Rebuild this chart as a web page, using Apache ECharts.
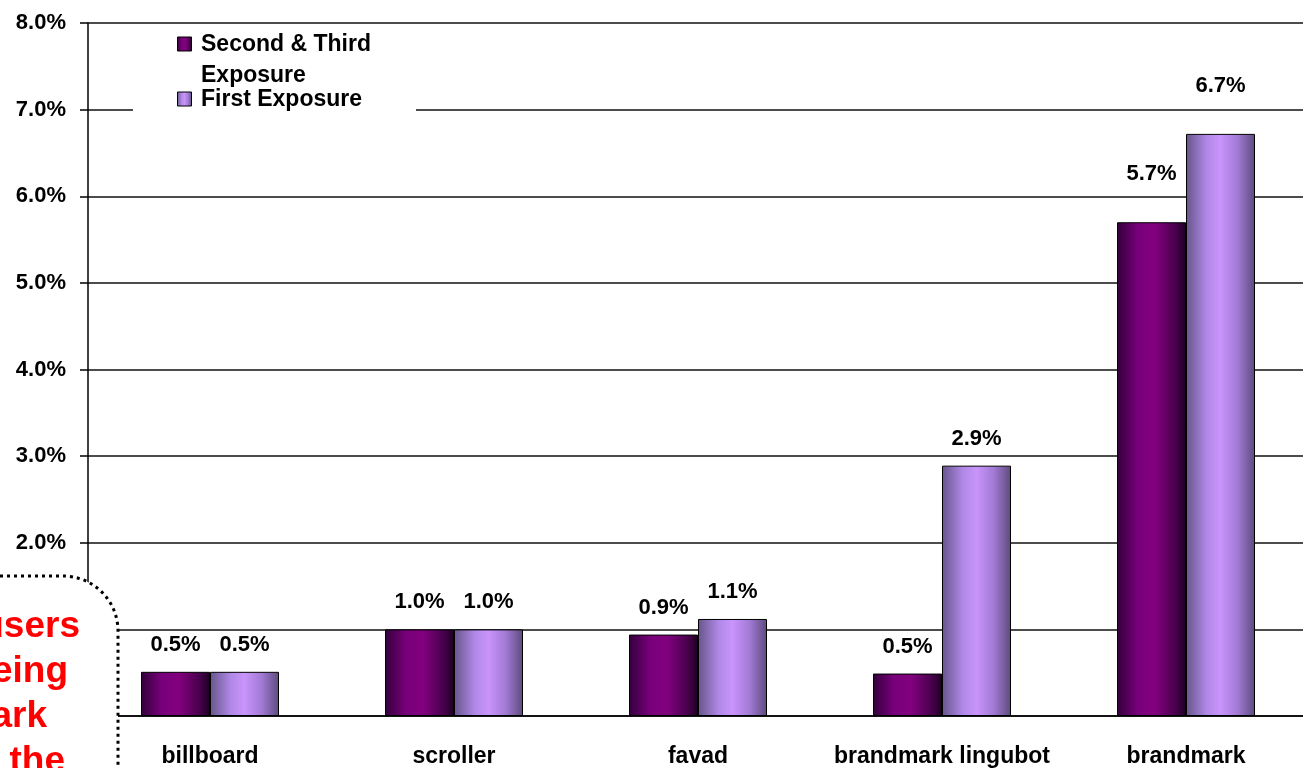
<!DOCTYPE html>
<html lang="en">
<head>
    <meta charset="UTF-8">
    <title>Exposure</title>
    <script src="https://cdn.jsdelivr.net/npm/echarts@6/dist/echarts.min.js"></script>
</head>
<style>
    *{
        margin: 0;
        padding: 0;
    }
    html , body{
        width: 100%;
        height: 768px;
        background: #fff;
    }
    .container{
        width: 1303px;
        height: 768px;
    }
</style>
<body>
<div class="container"></div>
<script>
    // data (percent)
    const categories = ['billboard', 'scroller', 'favad', 'brandmark lingubot', 'brandmark'];
    const seriesNames = ['Second & Third Exposure', 'First Exposure'];
    const secondThird = [0.51, 1.0, 0.94, 0.49, 5.7];
    const firstExposure = [0.51, 1.0, 1.12, 2.89, 6.72];
    const calloutLines = ['users', 'seeing', 'brandmark', 'at the'];

    const font = '"Liberation Sans", Arial, sans-serif';

    let container = document.querySelector('.container');
    let mycharts = echarts.init(container);

    const darkFill = new echarts.graphic.LinearGradient(0, 0, 1, 0, [
        {offset: 0, color: '#32003a'},
        {offset: 0.3, color: '#78007a'},
        {offset: 0.55, color: '#82007f'},
        {offset: 0.85, color: '#48004c'},
        {offset: 1, color: '#1e0022'}
    ]);
    const lightFill = new echarts.graphic.LinearGradient(0, 0, 1, 0, [
        {offset: 0, color: '#66558a'},
        {offset: 0.3, color: '#b088e6'},
        {offset: 0.5, color: '#c994fb'},
        {offset: 0.75, color: '#a27ad4'},
        {offset: 1, color: '#5c4a7c'}
    ]);

    function buildData(values) {
        // brandmark labels sit higher in the original
        return values.map((v, i) => i === 4 ? {value: v, label: {distance: 37}} : v);
    }

    let labelStyle = {
        show: true,
        position: 'top',
        distance: 16,
        color: '#000',
        fontFamily: font,
        fontWeight: 'bold',
        fontSize: 22,
        formatter: p => p.value.toFixed(1) + '%'
    };

    let series = [
        {
            name: seriesNames[0],
            type: 'bar',
            data: buildData(secondThird),
            barWidth: 69,
            barGap: '0%',
            itemStyle: {color: darkFill, borderColor: '#000', borderWidth: 1},
            label: labelStyle
        },
        {
            name: seriesNames[1],
            type: 'bar',
            data: buildData(firstExposure),
            barWidth: 69,
            barGap: '0%',
            itemStyle: {color: lightFill, borderColor: '#000', borderWidth: 1},
            label: labelStyle
        }
    ];

    let calloutText = calloutLines.map((t, i) => ({
        type: 'text',
        z: 101,
        x: [80, 68, 47, 65][i],
        y: 627 + i * 45,
        style: {
            text: t,
            fill: '#ff0000',
            font: 'bold 37px ' + font,
            textAlign: 'right',
            textVerticalAlign: 'middle'
        }
    }));

    let options = {
        animation: false,
        backgroundColor: '#fff',
        // plot runs a little past the right edge of the page
        grid: {left: 88, width: 1220, top: 23, bottom: 52, outerBoundsMode: 'none'},
        xAxis: {
            type: 'category',
            data: categories,
            axisLine: {lineStyle: {color: '#000', width: 1.5}},
            axisTick: {length: 9, lineStyle: {color: '#000', width: 1.5}},
            axisLabel: {
                margin: 29,
                color: '#000',
                fontFamily: font,
                fontWeight: 'bold',
                fontSize: 23,
                interval: 0
            }
        },
        yAxis: {
            type: 'value',
            min: 0,
            max: 8,
            interval: 1,
            axisLine: {show: true, lineStyle: {color: '#000', width: 1.5}},
            axisTick: {show: true, length: 8, lineStyle: {color: '#000', width: 1.5}},
            splitLine: {lineStyle: {color: '#111', width: 1.5}},
            axisLabel: {
                margin: 22,
                color: '#000',
                fontFamily: font,
                fontWeight: 'bold',
                fontSize: 22,
                formatter: v => v.toFixed(1) + '%'
            }
        },
        graphic: [
            // legend box
            {type: 'rect', z: 100, shape: {x: 133, y: 28, width: 283, height: 92}, style: {fill: '#fff'}},
            {type: 'rect', z: 101, shape: {x: 177.5, y: 37, width: 14, height: 14}, style: {fill: darkFill, stroke: '#000', lineWidth: 1}},
            {type: 'rect', z: 101, shape: {x: 177.5, y: 92, width: 14, height: 14}, style: {fill: lightFill, stroke: '#000', lineWidth: 1}},
            {
                type: 'text', z: 101, x: 201, y: 29,
                style: {
                    text: seriesNames[0].replace(' Exposure', '\nExposure'),
                    font: 'bold 23px ' + font,
                    fill: '#000',
                    lineHeight: 31,
                    textVerticalAlign: 'top'
                }
            },
            {
                type: 'text', z: 101, x: 201, y: 100,
                style: {
                    text: seriesNames[1],
                    font: 'bold 23px ' + font,
                    fill: '#000',
                    textVerticalAlign: 'middle'
                }
            },
            // dotted callout box, mostly off the page
            {
                type: 'rect', z: 100,
                shape: {x: -300, y: 576, width: 418, height: 400, r: 55},
                style: {fill: '#fff', stroke: '#000', lineWidth: 3, lineDash: [3, 4]}
            }
        ].concat(calloutText),
        series
    };

    mycharts.setOption(options);
</script>
</body>
</html>
